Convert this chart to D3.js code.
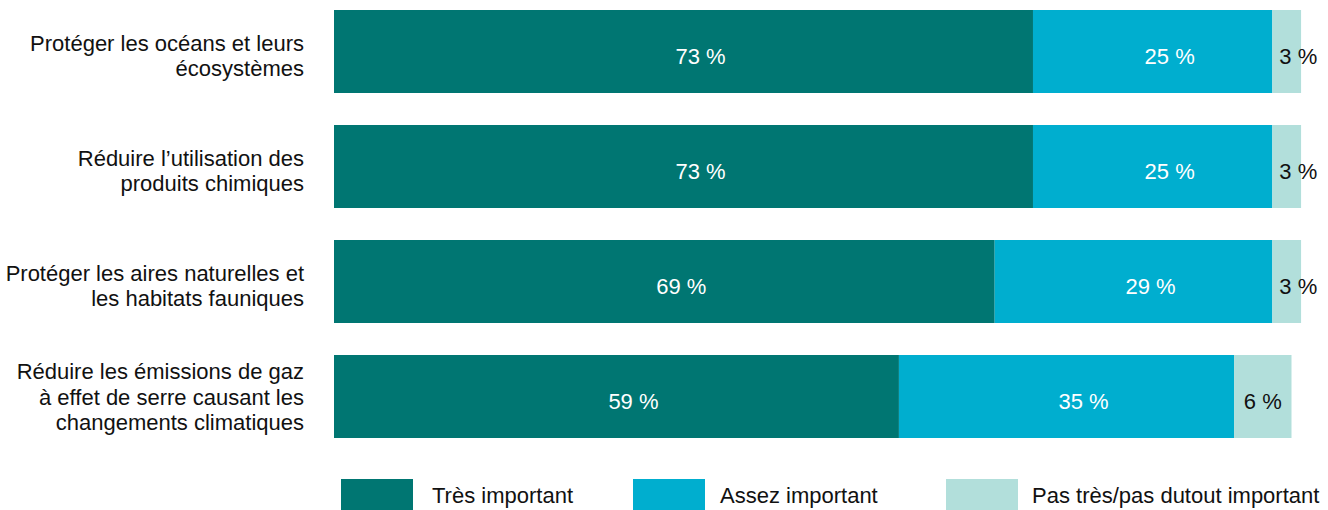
<!DOCTYPE html>
<html><head><meta charset="utf-8">
<script src="https://cdn.jsdelivr.net/npm/d3@7"></script>
<style>body{margin:0;background:#fff}svg{display:block}text{font-family:"Liberation Sans",Arial,Helvetica,sans-serif}</style>
</head><body>
<svg id="c" width="1328" height="510"></svg>
<script>
const categories = [
  ["Protéger les océans et leurs","écosystèmes"],
  ["Réduire l’utilisation des","produits chimiques"],
  ["Protéger les aires naturelles et","les habitats fauniques"],
  ["Réduire les émissions de gaz","à effet de serre causant les","changements climatiques"]
];
const seriesNames = ["Très important","Assez important","Pas très/pas dutout important"];
const tres = [73,73,69,59];
const assez = [25,25,29,35];
const pas = [3,3,3,6];
const colors = ["#007672","#00aecf","#b2dfdb"];

const svg = d3.select("#c");
const FS = 22;
const x = d3.scaleLinear().domain([0,100]).range([334,1291.5]);
const y = d3.scaleBand().domain(d3.range(categories.length)).range([10,438]).paddingInner(32/115).paddingOuter(0);

const series = [tres, assez, pas];
const rows = categories.map((c,i)=>{
  let acc=0; return series.map((s,k)=>{const r={k,i,x0:acc,x1:acc+s[i],v:s[i]}; acc+=s[i]; return r;});
});

rows.forEach((segs,i)=>{
  const g = svg.append("g");
  const cy = y(i)+y.bandwidth()/2;
  g.selectAll("rect").data(segs).join("rect")
    .attr("x",d=>x(d.x0)).attr("width",d=>x(d.x1)-x(d.x0))
    .attr("y",y(i)).attr("height",y.bandwidth())
    .attr("fill",d=>colors[d.k]);
  g.selectAll("text.v").data(segs).join("text").attr("class","v")
    .attr("x",d=> d.k===2 ? (d.v<5 ? x(d.x0)+7 : (x(d.x0)+x(d.x1))/2) : (x(d.x0)+x(d.x1))/2 + 17)
    .attr("y",cy+12)
    .attr("text-anchor",d=> d.k===2 && d.v<5 ? "start" : "middle")
    .attr("font-size",FS)
    .attr("fill",d=>d.k===2?"#111":"#fff")
    .text(d=>d.v+" %");
  const lines = categories[i];
  const lh = 25.5;
  const t = svg.append("text").attr("text-anchor","end").attr("font-size",FS).attr("fill","#111");
  const off = lines.length===2 ? 12 : 8;
  lines.forEach((l,j)=>{
    t.append("tspan").attr("x",304).attr("y",cy + (j-(lines.length-1)/2)*lh + off).text(l);
  });
});

const legX = [341,633,946];
const lg = svg.append("g");
seriesNames.forEach((n,k)=>{
  lg.append("rect").attr("x",legX[k]).attr("y",479).attr("width",72).attr("height",33).attr("fill",colors[k]);
  lg.append("text").attr("x",legX[k]+(k===0?91:(k===1?87:86))).attr("y",503)
    .attr("font-size",FS).attr("fill","#111").text(n);
});
</script>
</body></html>
